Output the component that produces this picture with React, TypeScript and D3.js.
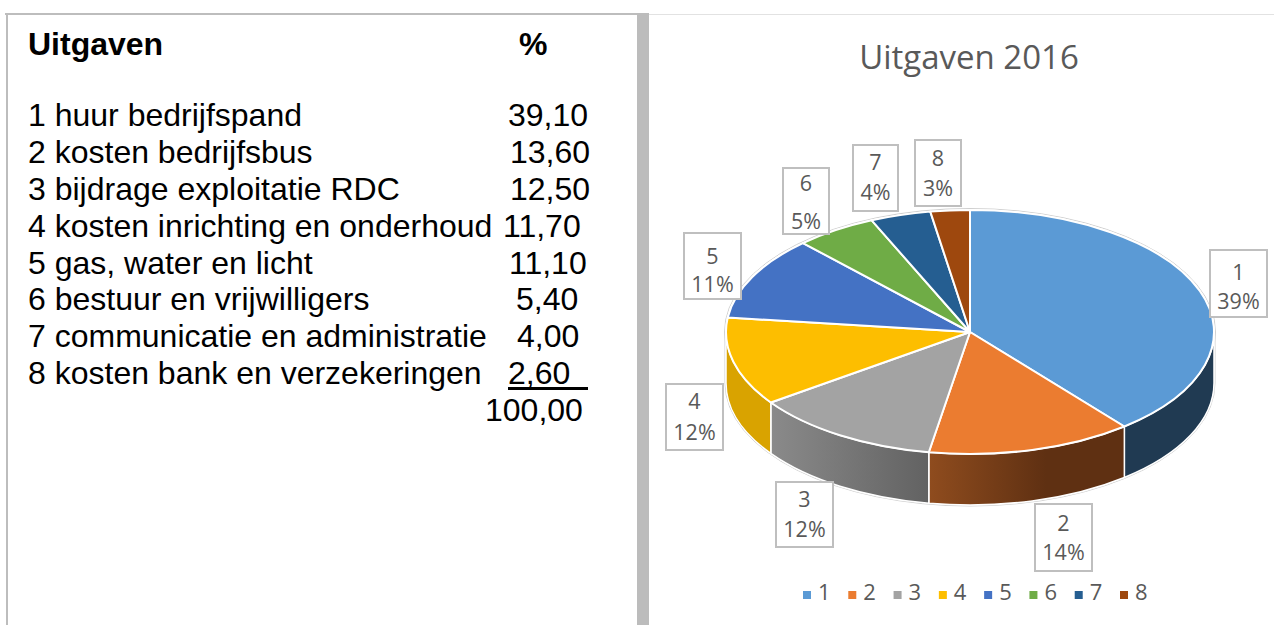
import React from "react";
import * as d3 from "d3";

const tableTitle = "Uitgaven";
const tableUnit = "%";
const itemNames = [
  "1 huur bedrijfspand",
  "2 kosten bedrijfsbus",
  "3 bijdrage exploitatie RDC",
  "4 kosten inrichting en onderhoud",
  "5 gas, water en licht",
  "6 bestuur en vrijwilligers",
  "7 communicatie en administratie",
  "8 kosten bank en verzekeringen",
];
const itemValues = [39.1, 13.6, 12.5, 11.7, 11.1, 5.4, 4.0, 2.6];
const totalLabel = "100,00";
const categories = ["1", "2", "3", "4", "5", "6", "7", "8"];
const percentLabels = ["39%", "14%", "12%", "12%", "11%", "5%", "4%", "3%"];
const chartTitle = "Uitgaven 2016";
const sliceColors = ["#5b9ad5", "#eb7c30", "#a3a3a3", "#fdbe00", "#4472c4", "#6fac46", "#255e91", "#9e480e"];

// layout
const W = 1274, H = 625;
const cx = 970, cy = 332, rx = 244, ry = 122, depth = 51;
const valueX = [508, 510, 510, 503, 509, 516, 517, 508];
const labelBoxes = [
  { x: 1210, y: 250, w: 57, h: 67, l1: 30, l2: 59 },
  { x: 1035, y: 504, w: 57, h: 67, l1: 27, l2: 56 },
  { x: 776, y: 482, w: 57, h: 65, l1: 25, l2: 55 },
  { x: 666, y: 384, w: 57, h: 66, l1: 25, l2: 56 },
  { x: 684, y: 233, w: 57, h: 66, l1: 31, l2: 59 },
  { x: 783, y: 168, w: 46, h: 66, l1: 23, l2: 61 },
  { x: 853, y: 145, w: 45, h: 66, l1: 25, l2: 55 },
  { x: 915, y: 140, w: 46, h: 66, l1: 26, l2: 56 },
];
const wallFill = ["#203a52", "url(#wall2)", "url(#wall3)", "#d9a300"];

const rowY = d3.scaleLinear().domain([0, 8]).range([126, 421]);
const legendX = d3.scaleLinear().domain([0, 7]).range([803, 1120]);

const pie = d3.pie<number>().sort(null).startAngle(0).endAngle(2 * Math.PI);
const arcs = pie(itemValues);
const arc = d3.arc<d3.PieArcDatum<number>>().innerRadius(0).outerRadius(rx);

const pt = (a: number) => [cx + rx * Math.sin(a), cy - ry * Math.cos(a)];

function wallPath(a0: number, a1: number) {
  const s = Math.max(a0, Math.PI / 2);
  const e = Math.min(a1, (3 * Math.PI) / 2);
  if (e <= s) return null;
  const [x0, y0] = pt(s);
  const [x1, y1] = pt(e);
  return `M${x0},${y0}A${rx},${ry} 0 0 1 ${x1},${y1}L${x1},${y1 + depth}A${rx},${ry} 0 0 0 ${x0},${y0 + depth}Z`;
}

const sans = "'Liberation Sans', Arial, sans-serif";
const chartFont = "'Open Sans', 'Noto Sans', sans-serif";

export default function App() {
  return (
    <svg width={W} height={H} style={{ position: "absolute", left: 0, top: 0, background: "#fff" }}>
      <defs>
        <linearGradient id="wall2" gradientUnits="userSpaceOnUse" x1={929} x2={1124} y1={0} y2={0}>
          <stop offset="0" stopColor="#8f4c1e" />
          <stop offset="0.6" stopColor="#5f3012" />
          <stop offset="1" stopColor="#5f3012" />
        </linearGradient>
        <linearGradient id="wall3" gradientUnits="userSpaceOnUse" x1={771} x2={929} y1={0} y2={0}>
          <stop offset="0" stopColor="#8a8a8a" />
          <stop offset="1" stopColor="#626262" />
        </linearGradient>
      </defs>

      {/* frame */}
      <rect x={5} y={13} width={632} height={2} fill="#bdbdbd" />
      <rect x={6} y={13} width={2} height={612} fill="#bdbdbd" />
      <rect x={637} y={13} width={12} height={612} fill="#bcbcbc" />
      <rect x={649} y={14} width={625} height={1} fill="#e2e2e2" />

      {/* table */}
      <g fontFamily={sans} fill="#000">
        <text x={28} y={55} fontSize={32} fontWeight="bold">{tableTitle}</text>
        <text x={519} y={55} fontSize={32} fontWeight="bold">{tableUnit}</text>
        {itemNames.map((n, i) => (
          <text key={n} x={28} y={rowY(i)} fontSize={32}>{n}</text>
        ))}
        {itemValues.map((v, i) => (
          <text key={i} x={valueX[i]} y={rowY(i)} fontSize={32}>{v.toFixed(2).replace(".", ",")}</text>
        ))}
        <rect x={508} y={387} width={80} height={3} />
        <text x={485} y={rowY(8)} fontSize={32}>{totalLabel}</text>
      </g>

      {/* title */}
      <text x={969} y={69} textAnchor="middle" fontFamily={chartFont} fontSize={33} fill="#595959">{chartTitle}</text>

      {/* 3D pie */}
      <ellipse cx={cx} cy={cy} rx={rx + 1.5} ry={ry + 1.5} fill="none" stroke="#cfcfcf" strokeWidth={1} />
      <path
        d={`M${cx - rx - 1},${cy}L${cx - rx - 1},${cy + depth}A${rx + 1},${ry + 1} 0 0 0 ${cx + rx + 1},${cy + depth}L${cx + rx + 1},${cy}`}
        fill="none"
        stroke="#cfcfcf"
        strokeWidth={1}
      />
      {arcs.map((d, i) => {
        const p = wallPath(d.startAngle, d.endAngle);
        return p ? <path key={i} d={p} fill={wallFill[i]} stroke="#fff" strokeWidth={1.5} /> : null;
      })}
      <g transform={`translate(${cx},${cy}) scale(1,${ry / rx})`}>
        {arcs.map((d, i) => (
          <path
            key={i}
            d={arc(d) as string}
            fill={sliceColors[i]}
            stroke="#fff"
            strokeWidth={2}
            strokeLinejoin="round"
            style={{ vectorEffect: "non-scaling-stroke" }}
          />
        ))}
      </g>

      {/* data labels */}
      <g fontFamily={chartFont} fontSize={21.5} fill="#595959" textAnchor="middle">
        {labelBoxes.map((b, i) => (
          <g key={i}>
            <rect x={b.x} y={b.y} width={b.w} height={b.h} fill="#fff" stroke="#bfbfbf" strokeWidth={2} />
            <text x={b.x + b.w / 2} y={b.y + b.l1}>{categories[i]}</text>
            <text x={b.x + b.w / 2} y={b.y + b.l2}>{percentLabels[i]}</text>
          </g>
        ))}
      </g>

      {/* legend */}
      <g fontFamily={chartFont} fontSize={22} fill="#595959">
        {categories.map((c, i) => (
          <g key={c}>
            <rect x={legendX(i)} y={591} width={8} height={8} fill={sliceColors[i]} />
            <text x={legendX(i) + 15} y={600}>{c}</text>
          </g>
        ))}
      </g>
    </svg>
  );
}
